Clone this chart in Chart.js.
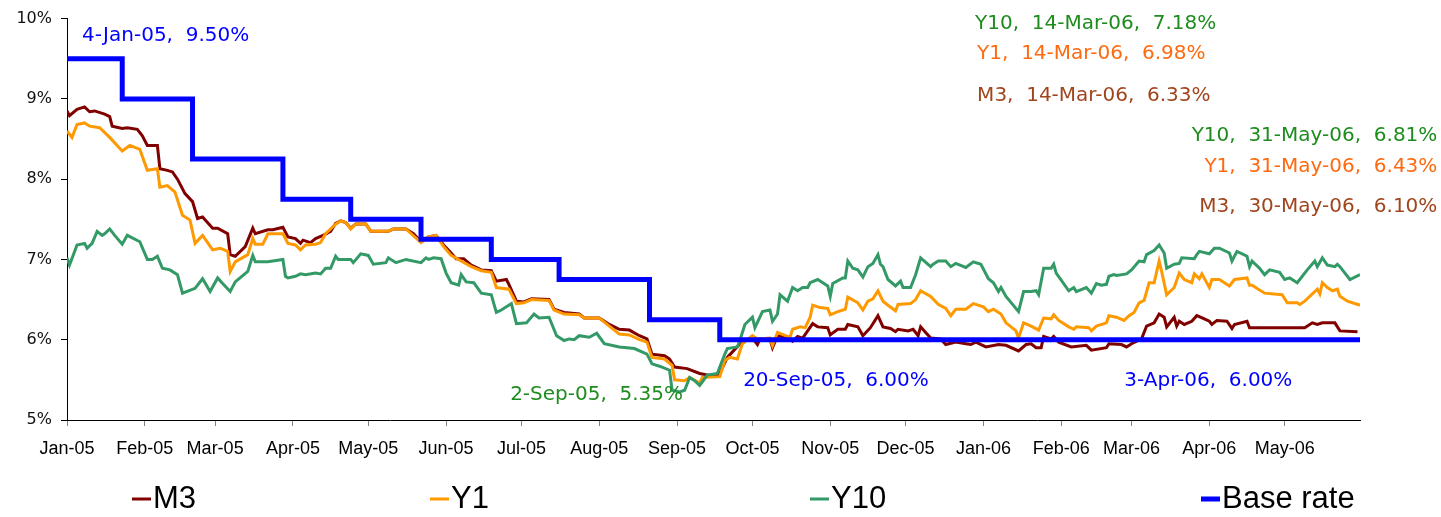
<!DOCTYPE html>
<html>
<head>
<meta charset="utf-8">
<script src="https://cdn.jsdelivr.net/npm/chart.js@4.4.1/dist/chart.umd.min.js"></script>
<style>
  html, body { margin: 0; padding: 0; background: #fff; }
  canvas { display: block; }
</style>
</head>
<body>
<canvas id="rates" width="1441" height="517"></canvas>
<script>
// x values are days counted from 1-Jan-05
const monthStarts = [0, 31, 59, 90, 120, 151, 181, 212, 243, 273, 304, 334, 365, 396, 424, 455, 485];
const monthLabels = ["Jan-05", "Feb-05", "Mar-05", "Apr-05", "May-05", "Jun-05", "Jul-05", "Aug-05",
  "Sep-05", "Oct-05", "Nov-05", "Dec-05", "Jan-06", "Feb-06", "Mar-06", "Apr-06", "May-06"];

const m3 = [
  [0, 8.85], [1, 8.79], [4, 8.87], [7, 8.9], [9, 8.84], [11, 8.85], [15, 8.81], [17, 8.78], [18, 8.66],
  [22, 8.63], [24, 8.64], [28, 8.62], [30, 8.54], [32, 8.42], [36, 8.42], [37, 8.13], [40, 8.11],
  [42, 8.09], [44, 8.0], [47, 7.82], [50, 7.72], [52, 7.51], [54, 7.53], [58, 7.39], [60, 7.39],
  [64, 7.32], [65, 7.06], [67, 7.04], [71, 7.16], [74, 7.39], [75, 7.32], [80, 7.37], [82, 7.37],
  [86, 7.4], [88, 7.28], [91, 7.26], [93, 7.2], [94, 7.24], [97, 7.21], [99, 7.26], [102, 7.3],
  [105, 7.35], [107, 7.45], [109, 7.48], [111, 7.46], [113, 7.39], [115, 7.44], [119, 7.44],
  [121, 7.35], [128, 7.35], [130, 7.38], [135, 7.38], [138, 7.32], [141, 7.22], [144, 7.28],
  [147, 7.3], [150, 7.18], [153, 7.08], [155, 7.01], [158, 7.01], [161, 6.93], [165, 6.87],
  [169, 6.86], [171, 6.73], [175, 6.75], [176, 6.69], [179, 6.48], [182, 6.47], [185, 6.51],
  [192, 6.5], [194, 6.38], [198, 6.34], [204, 6.32], [206, 6.27], [212, 6.27], [216, 6.19],
  [220, 6.13], [224, 6.12], [228, 6.05], [231, 6.01], [233, 5.82], [238, 5.8], [240, 5.76],
  [242, 5.66], [247, 5.64], [252, 5.58], [255, 5.56], [258, 5.55], [260, 5.58], [263, 5.78],
  [269, 5.98], [273, 6.02], [275, 5.94], [276, 6.01], [280, 6.01], [281, 5.9], [283, 6.05],
  [287, 6.03], [289, 5.98], [291, 6.04], [293, 6.02], [295, 6.11], [297, 6.2], [299, 6.16],
  [303, 6.15], [304, 6.06], [307, 6.13], [310, 6.13], [311, 6.19], [315, 6.16], [317, 6.05],
  [320, 6.15], [323, 6.3], [325, 6.16], [328, 6.14], [330, 6.1], [331, 6.13], [335, 6.11],
  [337, 6.13], [339, 6.05], [340, 6.16], [342, 6.09], [344, 6.02], [348, 6.01], [350, 5.94],
  [354, 5.97], [358, 5.95], [360, 5.94], [362, 5.97], [366, 5.91], [371, 5.94], [374, 5.93],
  [379, 5.86], [382, 5.94], [384, 5.95], [386, 5.9], [388, 5.9], [389, 6.04], [392, 6.01],
  [393, 6.04], [395, 5.97], [400, 5.91], [406, 5.93], [408, 5.87], [414, 5.9], [415, 5.95],
  [420, 5.94], [422, 5.91], [424, 5.95], [428, 6.01], [430, 6.17], [433, 6.21], [435, 6.32],
  [437, 6.28], [438, 6.16], [441, 6.28], [442, 6.17], [443, 6.23], [445, 6.19], [448, 6.23],
  [450, 6.3], [453, 6.26], [455, 6.23], [456, 6.19], [458, 6.24], [462, 6.23], [464, 6.14],
  [465, 6.19], [470, 6.23], [471, 6.15], [493, 6.15], [496, 6.21], [498, 6.19], [500, 6.21],
  [505, 6.21], [507, 6.11], [514, 6.1]
];

const y1 = [
  [0, 8.6], [2, 8.52], [4, 8.68], [7, 8.7], [9, 8.66], [13, 8.64], [17, 8.52], [22, 8.35], [25, 8.42],
  [29, 8.37], [32, 8.11], [36, 8.13], [37, 7.9], [40, 7.92], [43, 7.84], [46, 7.55], [49, 7.49],
  [51, 7.2], [54, 7.3], [58, 7.12], [61, 7.14], [64, 7.1], [65, 6.85], [67, 6.97], [72, 7.06],
  [74, 7.26], [75, 7.19], [78, 7.19], [80, 7.32], [86, 7.32], [88, 7.2], [91, 7.18], [93, 7.12],
  [95, 7.18], [99, 7.19], [101, 7.21], [103, 7.32], [107, 7.44], [109, 7.48], [111, 7.46],
  [113, 7.38], [115, 7.44], [119, 7.44], [121, 7.35], [128, 7.35], [130, 7.38], [135, 7.38],
  [141, 7.21], [144, 7.28], [147, 7.3], [150, 7.16], [153, 7.05], [157, 6.98], [161, 6.91],
  [165, 6.86], [169, 6.84], [171, 6.65], [176, 6.63], [179, 6.45], [182, 6.46], [185, 6.5],
  [192, 6.49], [194, 6.37], [198, 6.32], [204, 6.31], [206, 6.27], [212, 6.27], [216, 6.17],
  [220, 6.07], [224, 6.06], [228, 6.0], [231, 5.97], [233, 5.78], [238, 5.76], [241, 5.68],
  [242, 5.5], [246, 5.49], [248, 5.53], [252, 5.46], [253, 5.53], [260, 5.54], [262, 5.74],
  [264, 5.78], [267, 5.76], [269, 5.95], [273, 6.05], [275, 6.01], [280, 6.02], [281, 5.93],
  [283, 6.09], [288, 6.03], [289, 6.13], [292, 6.16], [294, 6.15], [296, 6.28], [297, 6.43],
  [300, 6.4], [303, 6.39], [304, 6.31], [307, 6.35], [310, 6.38], [311, 6.53], [315, 6.46],
  [317, 6.37], [319, 6.48], [321, 6.51], [323, 6.61], [325, 6.48], [327, 6.43], [330, 6.36],
  [331, 6.44], [336, 6.45], [338, 6.5], [340, 6.61], [344, 6.54], [347, 6.44], [350, 6.39],
  [352, 6.3], [354, 6.38], [358, 6.38], [361, 6.45], [365, 6.41], [367, 6.35], [369, 6.38],
  [372, 6.32], [374, 6.21], [378, 6.11], [379, 6.02], [381, 6.21], [384, 6.17], [387, 6.12],
  [389, 6.27], [392, 6.26], [393, 6.31], [395, 6.24], [399, 6.16], [401, 6.13], [402, 6.16],
  [407, 6.15], [408, 6.11], [410, 6.17], [414, 6.21], [415, 6.3], [418, 6.28], [421, 6.24],
  [423, 6.3], [425, 6.34], [427, 6.46], [429, 6.49], [431, 6.71], [433, 6.71], [435, 6.98],
  [436, 6.85], [438, 6.56], [441, 6.65], [443, 6.83], [445, 6.75], [448, 6.71], [449, 6.82],
  [451, 6.76], [452, 6.82], [455, 6.65], [456, 6.75], [459, 6.75], [463, 6.67], [465, 6.75],
  [470, 6.77], [471, 6.68], [472, 6.68], [477, 6.58], [484, 6.56], [486, 6.46], [490, 6.46],
  [491, 6.44], [493, 6.48], [498, 6.63], [499, 6.57], [500, 6.71], [502, 6.65], [504, 6.61],
  [506, 6.63], [507, 6.54], [510, 6.48], [515, 6.43]
];

const y10 = [
  [0, 7.02], [1, 6.93], [4, 7.18], [7, 7.2], [8, 7.14], [10, 7.2], [12, 7.35], [14, 7.3], [15, 7.32],
  [17, 7.38], [19, 7.3], [22, 7.19], [24, 7.3], [29, 7.22], [32, 7.0], [34, 7.0], [36, 7.04],
  [38, 6.89], [41, 6.87], [44, 6.81], [46, 6.58], [51, 6.64], [54, 6.76], [57, 6.6], [60, 6.77],
  [62, 6.7], [65, 6.6], [67, 6.72], [72, 6.85], [74, 7.05], [75, 6.97], [80, 6.97], [86, 7.0],
  [87, 6.79], [88, 6.77], [91, 6.79], [93, 6.82], [95, 6.81], [99, 6.83], [101, 6.82], [103, 6.89],
  [105, 6.89], [107, 7.04], [108, 7.0], [113, 7.0], [114, 6.96], [117, 7.07], [120, 7.05],
  [122, 6.94], [127, 6.96], [128, 7.02], [131, 6.96], [135, 7.0], [141, 6.96], [143, 7.02],
  [144, 7.0], [146, 7.02], [149, 7.01], [151, 6.83], [153, 6.71], [156, 6.68], [157, 6.81],
  [159, 6.72], [162, 6.71], [165, 6.58], [169, 6.56], [171, 6.34], [173, 6.37], [177, 6.45],
  [179, 6.2], [183, 6.21], [186, 6.32], [188, 6.27], [192, 6.28], [195, 6.05], [198, 5.99],
  [200, 6.01], [202, 6.0], [204, 6.05], [208, 6.03], [211, 6.08], [214, 5.95], [220, 5.91],
  [226, 5.89], [231, 5.82], [233, 5.7], [236, 5.67], [240, 5.62], [241, 5.37], [244, 5.35],
  [246, 5.37], [248, 5.53], [250, 5.49], [252, 5.43], [255, 5.56], [259, 5.58], [260, 5.66],
  [262, 5.82], [263, 5.89], [267, 5.91], [268, 5.99], [270, 6.19], [273, 6.28], [274, 6.15],
  [277, 6.35], [280, 6.37], [281, 6.23], [283, 6.32], [284, 6.56], [287, 6.48], [289, 6.65],
  [291, 6.61], [293, 6.65], [295, 6.65], [296, 6.71], [299, 6.75], [303, 6.67], [304, 6.54],
  [305, 6.7], [309, 6.77], [310, 6.77], [311, 6.98], [313, 6.89], [315, 6.87], [317, 6.78],
  [319, 6.91], [321, 6.95], [323, 7.06], [324, 6.94], [325, 6.91], [327, 6.75], [330, 6.67],
  [332, 6.73], [333, 6.65], [336, 6.65], [338, 6.81], [340, 7.02], [344, 6.91], [345, 6.94],
  [347, 6.98], [350, 6.98], [352, 6.91], [354, 6.95], [358, 6.9], [361, 6.97], [364, 6.94],
  [367, 6.76], [369, 6.71], [371, 6.6], [372, 6.65], [374, 6.54], [379, 6.35], [381, 6.6],
  [384, 6.6], [386, 6.61], [387, 6.56], [389, 6.89], [392, 6.89], [393, 6.94], [394, 6.83],
  [399, 6.61], [401, 6.65], [402, 6.6], [406, 6.65], [408, 6.58], [410, 6.7], [412, 6.68],
  [414, 6.69], [415, 6.79], [417, 6.81], [418, 6.8], [422, 6.82], [424, 6.87], [427, 6.98],
  [429, 6.97], [430, 7.06], [433, 7.11], [435, 7.18], [437, 7.08], [438, 6.89], [441, 6.94],
  [443, 6.95], [444, 7.02], [449, 7.01], [450, 7.06], [451, 7.1], [455, 7.07], [457, 7.14],
  [459, 7.14], [463, 7.08], [464, 6.98], [466, 7.1], [470, 7.04], [471, 6.91], [472, 6.98],
  [475, 6.89], [477, 6.81], [479, 6.87], [483, 6.84], [485, 6.75], [487, 6.77], [490, 6.71],
  [494, 6.87], [497, 6.98], [498, 6.91], [500, 7.02], [502, 6.93], [505, 6.91], [506, 6.94],
  [507, 6.91], [509, 6.83], [511, 6.75], [515, 6.81]
];

const baseDays = [0, 22, 50, 86, 113, 141, 169, 196, 232, 260, 515];
const baseRates = [9.5, 9.0, 8.25, 7.75, 7.5, 7.25, 7.0, 6.75, 6.25, 6.0, 6.0];

const toPoints = (pairs) => pairs.map(([d, r]) => ({ x: d, y: r }));

// data labels placed in chart coordinates (day, rate)
const notes = [
  { text: "4-Jan-05,  9.50%", color: "#0000FF", day: 6, rate: 9.78, align: "left" },
  { text: "Y10,  14-Mar-06,  7.18%", color: "#1E8C1E", day: 361.7, rate: 9.93, align: "left" },
  { text: "Y1,  14-Mar-06,  6.98%", color: "#FF6A10", day: 362.5, rate: 9.56, align: "left" },
  { text: "M3,  14-Mar-06,  6.33%", color: "#A0461E", day: 362.5, rate: 9.04, align: "left" },
  { text: "Y10,  31-May-06,  6.81%", color: "#1E8C1E", day: 545.8, rate: 8.54, align: "right" },
  { text: "Y1,  31-May-06,  6.43%", color: "#FF6A10", day: 545.8, rate: 8.16, align: "right" },
  { text: "M3,  30-May-06,  6.10%", color: "#A0461E", day: 545.8, rate: 7.65, align: "right" },
  { text: "2-Sep-05,  5.35%", color: "#1E8C1E", day: 176.5, rate: 5.31, align: "left" },
  { text: "20-Sep-05,  6.00%", color: "#0000FF", day: 269.3, rate: 5.49, align: "left" },
  { text: "3-Apr-06,  6.00%", color: "#0000FF", day: 421.1, rate: 5.49, align: "left" }
];

const noteLabels = {
  id: "noteLabels",
  afterDatasetsDraw(chart) {
    const { ctx, scales } = chart;
    ctx.save();
    ctx.font = "20px 'DejaVu Sans'";
    ctx.textBaseline = "middle";
    notes.forEach((n) => {
      ctx.fillStyle = n.color;
      ctx.textAlign = n.align;
      ctx.fillText(n.text, scales.x.getPixelForValue(n.day), scales.y.getPixelForValue(n.rate));
    });
    ctx.restore();
  }
};

// legend laid out like the original, spaced unevenly under the axis
const bottomLegend = {
  id: "bottomLegend",
  afterDraw(chart) {
    const { ctx } = chart;
    const y = 499;
    const items = [
      { label: "M3", color: "#800000", width: 3, x: 132 },
      { label: "Y1", color: "#FF9900", width: 3, x: 430 },
      { label: "Y10", color: "#339966", width: 3, x: 810 },
      { label: "Base rate", color: "#0000FF", width: 5, x: 1201 }
    ];
    ctx.save();
    ctx.font = "31px 'Liberation Sans'";
    ctx.textBaseline = "middle";
    ctx.fillStyle = "#000";
    items.forEach((it) => {
      ctx.strokeStyle = it.color;
      ctx.lineWidth = it.width;
      ctx.beginPath();
      ctx.moveTo(it.x, y);
      ctx.lineTo(it.x + 19, y);
      ctx.stroke();
      ctx.fillText(it.label, it.x + 21, y);
    });
    ctx.restore();
  }
};

const ctx = document.getElementById("rates").getContext("2d");

new Chart(ctx, {
  type: "line",
  data: {
    datasets: [
      {
        label: "Base rate",
        data: baseDays.map((d, i) => ({ x: d, y: baseRates[i] })),
        borderColor: "#0000FF",
        borderWidth: 5,
        stepped: true,
        order: 0
      },
      { label: "Y10", data: toPoints(y10), borderColor: "#339966", borderWidth: 3, order: 1 },
      { label: "Y1", data: toPoints(y1), borderColor: "#FF9900", borderWidth: 3, order: 2 },
      { label: "M3", data: toPoints(m3), borderColor: "#800000", borderWidth: 3, order: 3 }
    ]
  },
  options: {
    responsive: false,
    animation: false,
    events: [],
    elements: { point: { radius: 0 }, line: { tension: 0, fill: false } },
    layout: { padding: { left: 0, right: 81, top: 15, bottom: 0 } },
    plugins: { legend: { display: false }, tooltip: { enabled: false } },
    scales: {
      x: {
        type: "linear",
        min: 0,
        max: 515,
        afterBuildTicks: (scale) => {
          scale.ticks = monthStarts.map((v) => ({ value: v }));
        },
        afterFit: (scale) => { scale.height = 97; },
        ticks: {
          autoSkip: false,
          maxRotation: 0,
          padding: 12,
          color: "#000",
          font: { family: "'Liberation Sans'", size: 18 },
          callback: (v, i) => monthLabels[i]
        },
        grid: { drawOnChartArea: false, drawTicks: true, tickLength: 6, color: "#808080" },
        border: { display: true, color: "#000", width: 1 }
      },
      y: {
        min: 5,
        max: 10,
        afterFit: (scale) => { scale.width = 67; },
        ticks: {
          stepSize: 1,
          padding: 9,
          color: "#111",
          font: { family: "'DejaVu Sans'", size: 16 },
          callback: (v) => v + "%"
        },
        grid: { drawOnChartArea: false, drawTicks: true, tickLength: 6, color: "#000" },
        border: { display: true, color: "#000", width: 1 }
      }
    }
  },
  plugins: [noteLabels, bottomLegend]
});
</script>
</body>
</html>
